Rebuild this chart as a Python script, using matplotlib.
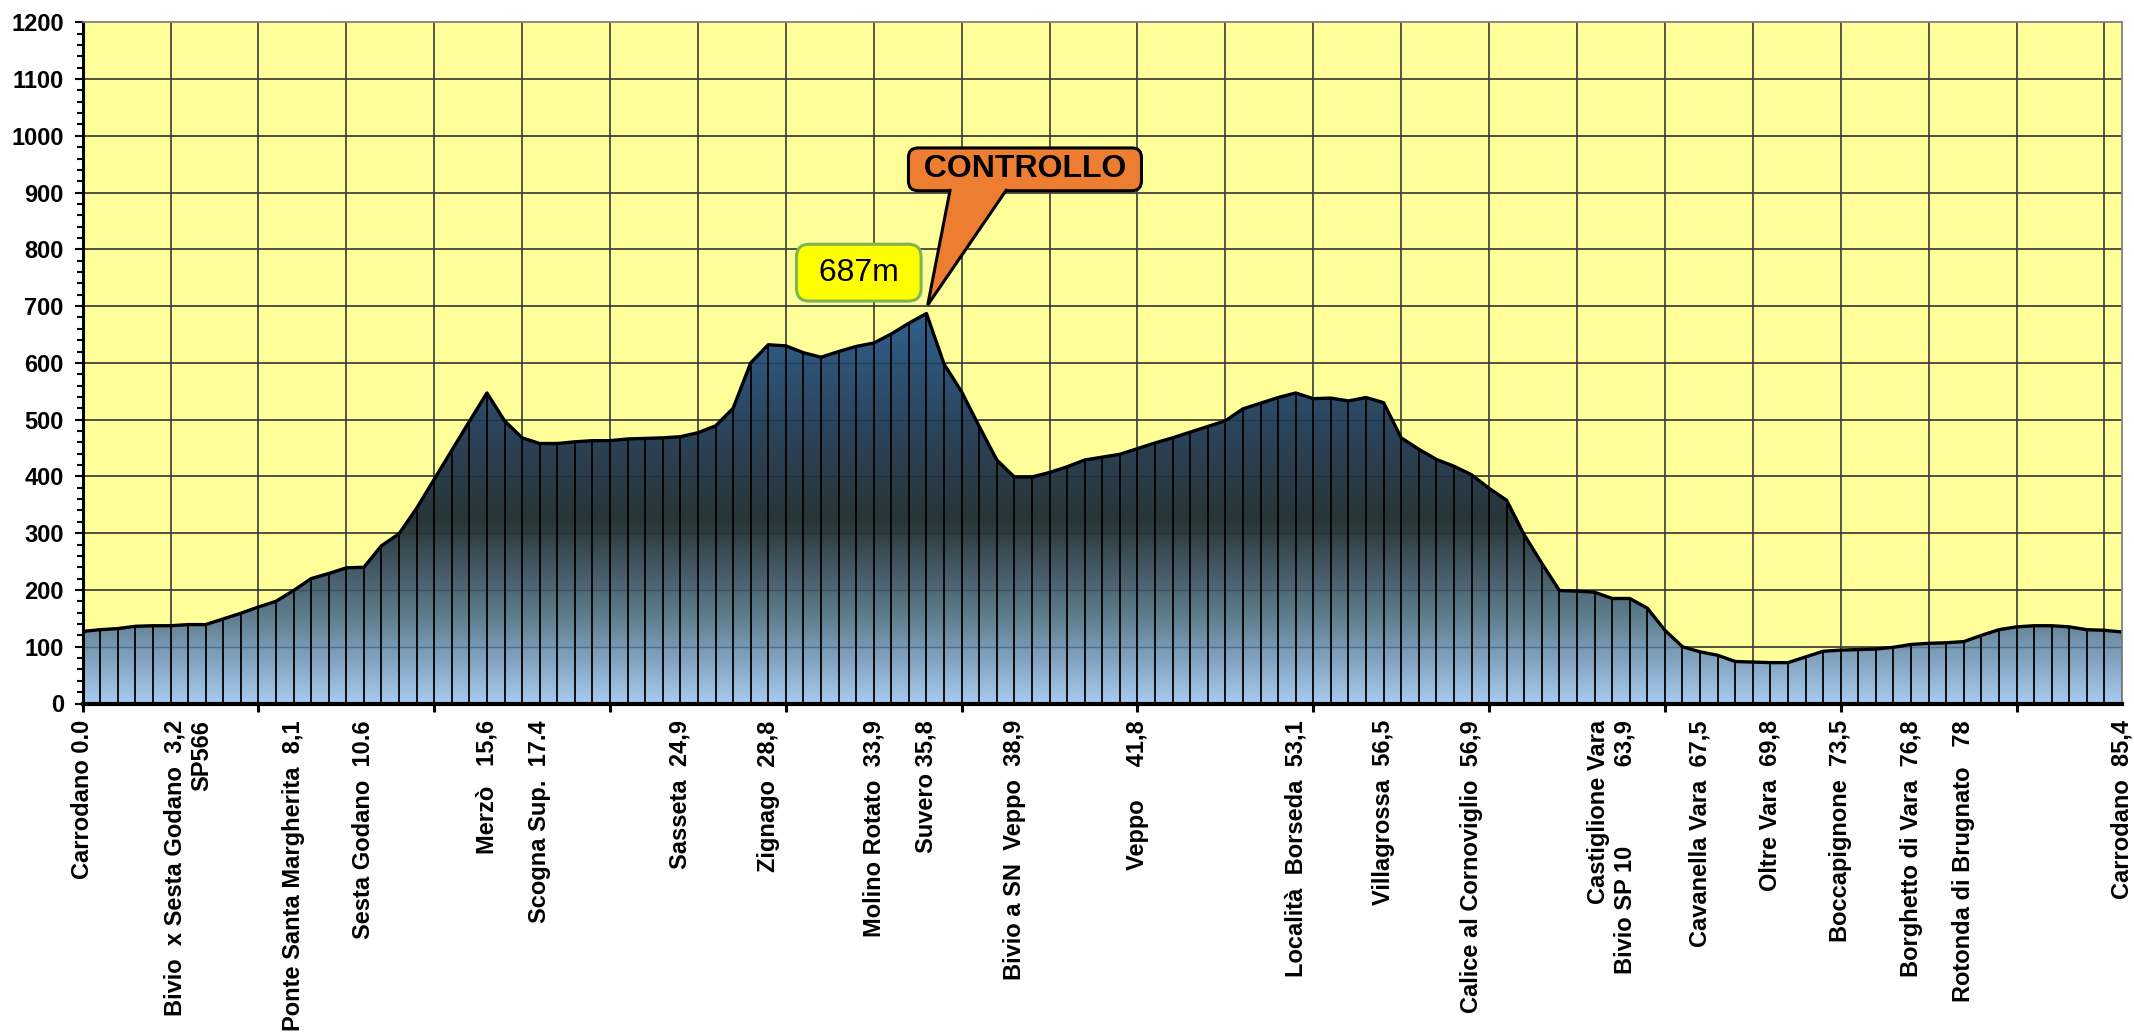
import numpy as np
import matplotlib
matplotlib.use("Agg")
import matplotlib.pyplot as plt
from matplotlib.patches import Polygon
from matplotlib.colors import LinearSegmentedColormap
from matplotlib.ticker import MultipleLocator

plt.rcParams['font.family'] = ['Liberation Sans', 'DejaVu Sans']

# ---------------- data ----------------
elevation = [
    127, 130, 132, 136, 137, 137, 139, 139, 149, 159,
    170, 180, 199, 220, 229, 239, 240, 278, 299, 344,
    395, 446, 497, 547, 498, 468, 458, 458, 461, 463,
    463, 466, 467, 468, 470, 477, 489, 520, 600, 632,
    630, 618, 610, 620, 629, 635, 651, 670, 687, 598,
    549, 488, 429, 399, 399, 407, 417, 429, 434, 439,
    449, 459, 468, 478, 488, 498, 519, 529, 539, 547,
    537, 538, 533, 539, 530, 468, 448, 430, 418, 403,
    379, 358, 297, 247, 199, 198, 196, 185, 185, 168,
    129, 100, 91, 85, 74, 73, 72, 72, 82, 92,
    94, 95, 96, 99, 104, 106, 107, 109, 120, 130,
    135, 137, 137, 135, 130, 129, 126,
]

stop_index = [0, 6, 12, 16, 23, 26, 34, 39, 45, 48, 53,
              60, 69, 74, 79, 87, 92, 96, 100, 104, 107, 116]
stop_names = [
    "Carrodano 0.0",
    "Bivio  x Sesta Godano  3,2\nSP566",
    "Ponte Santa Margherita  8,1",
    "Sesta Godano  10.6",
    "Merzò   15,6",
    "Scogna Sup.  17.4",
    "Sasseta  24,9",
    "Zignago  28,8",
    "Molino Rotato  33,9",
    "Suvero 35,8",
    "Bivio a SN  Veppo  38,9",
    "Veppo     41,8",
    "Località  Borseda  53,1",
    "Villagrossa  56,5",
    "Calice al Cornoviglio  56,9",
    "Castiglione Vara\nBivio SP 10            63,9",
    "Cavanella Vara  67,5",
    "Oltre Vara  69,8",
    "Boccapignone  73,5",
    "Borghetto di Vara  76,8",
    "Rotonda di Brugnato   78",
    "Carrodano  85,4",
]

y_ticks = list(range(0, 1201, 100))
peak_label = "687m"
control_label = "CONTROLLO"

# ---------------- figure ----------------
W, H = 2134, 1032
fig = plt.figure(figsize=(W / 100, H / 100), dpi=100)
fig.patch.set_facecolor('white')
left, right, top, bottom = 82.6, 2122, 22.3, 703.5
ax = fig.add_axes([left / W, 1 - bottom / H, (right - left) / W, (bottom - top) / H])
ax.set_facecolor('#FFFF99')

x = np.arange(len(elevation))
y = np.array(elevation, dtype=float)
n = len(x) - 1

# grid lines
for yv in y_ticks[1:-1]:
    ax.axhline(yv, color='#333333', lw=1.2, zorder=1)
for xv in range(5, n, 5):
    ax.axvline(xv, color='#3a3a3a', lw=1.2, zorder=1)

# gradient-filled area
verts = [(x[0], 0)] + list(zip(x, y)) + [(x[-1], 0)]
poly = Polygon(verts, closed=True, fc='none', ec='none')
ax.add_patch(poly)
cmap = LinearSegmentedColormap.from_list(
    'prof', [(0.0, '#a6caf0'), (0.22, '#5f7d8e'), (0.47, '#283438'),
             (0.75, '#2c4862'), (1.0, '#30608f')])
grad = np.linspace(0, 1, 512).reshape(-1, 1)
im = ax.imshow(grad, cmap=cmap, origin='lower', aspect='auto',
               extent=[x[0], x[-1], 0, y.max()], zorder=2,
               interpolation='bilinear')
im.set_clip_path(poly)

# faint horizontal gridlines visible through the fill
hl = ax.hlines(y_ticks[1:-1], x[0], x[-1], colors='#10202a', lw=1.0,
               alpha=0.35, zorder=3)
hl.set_clip_path(poly)

# vertical drop lines at every point
ax.vlines(x, 0, y, colors='black', lw=1.3, zorder=4)
# profile outline
ax.plot(x, y, color='black', lw=2.4, zorder=5, solid_joinstyle='round')

ax.set_xlim(x[0], x[-1])
ax.set_ylim(y_ticks[0], y_ticks[-1])

# ---------------- axes styling ----------------
ax.set_yticks(y_ticks)
ax.set_yticklabels([str(v) for v in y_ticks], fontsize=17, fontweight='bold')
ax.yaxis.set_minor_locator(MultipleLocator(20))
ax.tick_params(axis='y', which='major', direction='out', length=5.5, width=1.5, pad=8)
ax.tick_params(axis='y', which='minor', direction='out', length=4.5, width=1.5)

ax.xaxis.remove_overlapping_locs = False
ax.set_xticks(stop_index)
ax.set_xticklabels(stop_names, rotation=90, fontsize=17, fontweight='bold',
                   ha='center', va='top', multialignment='right')
ax.xaxis.set_minor_locator(MultipleLocator(10))
ax.tick_params(axis='x', which='major', length=0, pad=12)
ax.tick_params(axis='x', which='minor', direction='out', length=6, width=2.2)

ax.spines['left'].set_linewidth(2.2)
ax.spines['left'].set_color('black')
ax.spines['bottom'].set_linewidth(3.0)
ax.spines['bottom'].set_color('black')
for s in ('top', 'right'):
    ax.spines[s].set_color('#808080')
    ax.spines[s].set_linewidth(1.3)
for s in ax.spines.values():
    s.set_zorder(6)

# ---------------- callouts ----------------
pk = int(np.argmax(y))
pv = y[pk]
orange = '#ED7D31'

# CONTROLLO box
ax.text(pk + 5.6, pv + 254, ' ' + control_label + ' ', ha='center', va='center',
        fontsize=23, fontweight='bold', zorder=10, clip_on=False,
        bbox=dict(boxstyle='round,pad=0.2,rounding_size=0.3',
                  fc=orange, ec='black', lw=2.2))

# pointer of the callout: base on the box bottom, tip at the summit
base_y = pv + 217
tip = (pk + 0.07, pv + 15)
bl, br = (pk + 1.34, base_y), (pk + 4.53, base_y)
ptr_fill = Polygon([(bl[0], base_y + 10), bl, tip, br, (br[0], base_y + 10)],
                   closed=True, fc=orange, ec='none', zorder=11, clip_on=False)
ax.add_patch(ptr_fill)
ax.plot([bl[0], tip[0], br[0]], [bl[1], tip[1], br[1]], color='black', lw=2.2,
        zorder=11, clip_on=False, solid_joinstyle='miter')

# elevation label
ax.text(pk - 3.85, pv + 72, ' ' + peak_label + ' ', ha='center', va='center',
        fontsize=23, zorder=10,
        bbox=dict(boxstyle='round,pad=0.42,rounding_size=0.4',
                  fc='#FFFF00', ec='#7DB552', lw=2.2))

fig.savefig('out.png', dpi=100, facecolor='white')
